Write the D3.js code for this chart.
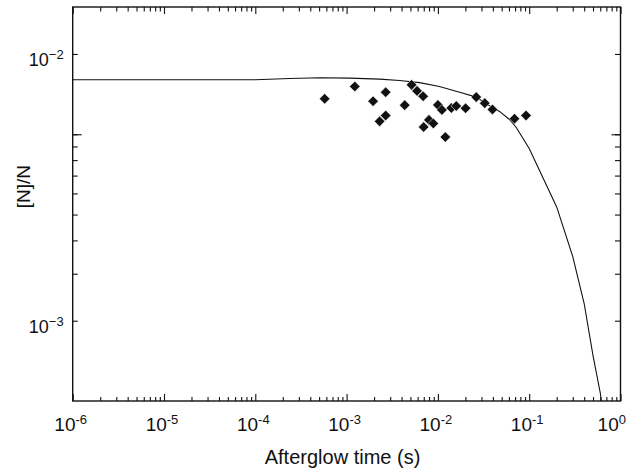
<!DOCTYPE html>
<html>
<head>
<meta charset="utf-8">
<script src="https://cdn.jsdelivr.net/npm/d3@7"></script>
<style>
  body { margin: 0; background: #fff; }
  text { font-family: "Liberation Sans", Arial, sans-serif; fill: #111; }
</style>
</head>
<body>
<div id="svg_chart"></div>
<script>
// measured points (afterglow time in s, [N]/N)
var pointTime = [5.75e-4, 1.23e-3, 1.95e-3, 2.68e-3, 2.30e-3, 2.68e-3, 4.33e-3, 5.15e-3,
	5.91e-3, 6.89e-3, 1.00e-2, 1.107e-2, 6.98e-3, 7.98e-3, 8.91e-3, 1.206e-2,
	1.404e-2, 1.589e-2, 2.01e-2, 2.63e-2, 3.26e-2, 3.96e-2, 6.9e-2, 9.23e-2];
var pointValue = [6.79e-3, 7.55e-3, 6.65e-3, 7.19e-3, 5.59e-3, 5.88e-3, 6.43e-3, 7.66e-3,
	7.27e-3, 6.94e-3, 6.44e-3, 6.17e-3, 5.32e-3, 5.66e-3, 5.49e-3, 4.88e-3,
	6.27e-3, 6.38e-3, 6.26e-3, 6.89e-3, 6.54e-3, 6.19e-3, 5.72e-3, 5.88e-3];

// model curve
var curveTime = [1e-6, 1e-4, 2.38e-4, 5.08e-4, 1.08e-3, 2.3e-3, 3.81e-3, 6.3e-3, 1.04e-2,
	1.73e-2, 2.63e-2, 3.39e-2, 4.73e-2, 6.08e-2, 7.22e-2, 8.53e-2, 0.1, 0.2, 0.3, 0.4, 0.5, 0.6, 0.7];
var curveValue = [8.0e-3, 8.0e-3, 8.09e-3, 8.14e-3, 8.12e-3, 8.05e-3, 7.95e-3, 7.81e-3, 7.55e-3,
	7.19e-3, 6.89e-3, 6.5e-3, 6.09e-3, 5.68e-3, 5.30e-3, 4.83e-3, 4.42e-3, 2.67e-3, 1.74e-3, 1.16e-3, 7.4e-4, 5.37e-4, 3.7e-4];

var xMajor = [1e-6, 1e-5, 1e-4, 1e-3, 1e-2, 1e-1, 1];
var xExp = ["-6", "-5", "-4", "-3", "-2", "-1", "0"];
var yMajor = [1e-2, 5e-3, 4.5e-3, 4e-3, 3.5e-3, 3e-3, 2.5e-3, 2e-3, 1.5e-3, 1e-3];
var yLabelled = [1e-2, 1e-3];
var yExp = ["\u22122", "\u22123"];

var margin = { top: 7, right: 6.5, bottom: 70, left: 72.7 };
var width = 627 - margin.left - margin.right;
var height = 471 - margin.top - margin.bottom;

var xAxis = d3.scaleLog().domain([1e-6, 1]).range([0, width]);
var yAxis = d3.scaleLog().domain([5e-4, 1.5e-2]).range([height, 0]);

// minor x ticks 2..9 inside every decade
var xMinor = [];
for (var e = -6; e < 0; e++) {
	for (var m = 2; m <= 9; m++) xMinor.push(m * Math.pow(10, e));
}

var svg = d3.select("#svg_chart").append("svg")
	.attr("width", 627)
	.attr("height", 471)
	.append("g")
		.attr("transform", "translate(" + margin.left + "," + margin.top + ")");

svg.append("clipPath").attr("id", "clip")
	.append("rect").attr("width", width).attr("height", height);

function tidy(g) {
	g.select(".domain").remove();
	g.selectAll("text").remove();
	g.selectAll("line").attr("stroke", "#111").attr("stroke-width", 1.1);
}

// ticks on all four sides, pointing in
svg.append("g").attr("transform", "translate(0," + height + ")")
	.call(d3.axisBottom(xAxis).tickValues(xMajor).tickSize(-7)).call(tidy);
svg.append("g").attr("transform", "translate(0," + height + ")")
	.call(d3.axisBottom(xAxis).tickValues(xMinor).tickSize(-4)).call(tidy);
svg.append("g")
	.call(d3.axisTop(xAxis).tickValues(xMajor).tickSize(-7)).call(tidy);
svg.append("g")
	.call(d3.axisTop(xAxis).tickValues(xMinor).tickSize(-4.5)).call(tidy);
svg.append("g")
	.call(d3.axisLeft(yAxis).tickValues(yMajor).tickSize(-5)).call(tidy);
svg.append("g").attr("transform", "translate(" + width + ",0)")
	.call(d3.axisRight(yAxis).tickValues(yMajor).tickSize(-5.5)).call(tidy);
// the 5e-3 tick is drawn longer
svg.append("g")
	.call(d3.axisLeft(yAxis).tickValues([5e-3]).tickSize(-9)).call(tidy);
svg.append("g").attr("transform", "translate(" + width + ",0)")
	.call(d3.axisRight(yAxis).tickValues([5e-3]).tickSize(-9)).call(tidy);

// frame
svg.append("rect")
	.attr("width", width).attr("height", height)
	.attr("fill", "none").attr("stroke", "#111").attr("stroke-width", 1.4);

// x tick labels
var xl = svg.selectAll(".xlab").data(xMajor).enter().append("text")
	.attr("class", "xlab")
	.attr("x", function (d) { return xAxis(d) - 2; })
	.attr("y", height + 30)
	.attr("text-anchor", "middle")
	.style("font-size", "19px")
	.text("10");
xl.append("tspan")
	.attr("dy", -7.5)
	.style("font-size", "13px")
	.text(function (d, i) { return xExp[i]; });

// keep the last label inside the page
xl.each(function () {
	var box = this.getBBox();
	var over = box.x + box.width - (width + margin.right - 1);
	if (over > 0) d3.select(this).attr("x", +d3.select(this).attr("x") - over);
});

// y tick labels
var yl = svg.selectAll(".ylab").data(yLabelled).enter().append("text")
	.attr("class", "ylab")
	.attr("x", -9)
	.attr("y", function (d) { return yAxis(d) + 12.4; })
	.attr("text-anchor", "end")
	.style("font-size", "18px")
	.text("10");
yl.append("tspan")
	.attr("dy", -7.4)
	.style("font-size", "13px")
	.text(function (d, i) { return yExp[i]; });

// axis titles
svg.append("text")
	.attr("x", 342.5 - margin.left)
	.attr("y", 464 - margin.top)
	.attr("text-anchor", "middle")
	.style("font-size", "20px")
	.text("Afterglow time (s)");

svg.append("text")
	.attr("transform", "translate(" + (30.5 - margin.left) + "," + (186.7 - margin.top) + ") rotate(-90)")
	.attr("text-anchor", "middle")
	.style("font-size", "19px")
	.text("[N]/N");

// model curve
var curve = curveTime.map(function (t, i) { return [t, curveValue[i]]; });
svg.append("path")
	.datum(curve)
	.attr("clip-path", "url(#clip)")
	.attr("fill", "none")
	.attr("stroke", "#111")
	.attr("stroke-width", 1.1)
	.attr("d", d3.line()
		.x(function (d) { return xAxis(d[0]); })
		.y(function (d) { return yAxis(d[1]); }));

// data points as diamonds
var pts = pointTime.map(function (t, i) { return [t, pointValue[i]]; });
svg.selectAll(".pt").data(pts).enter().append("path")
	.attr("class", "pt")
	.attr("d", d3.symbol(d3.symbolSquare, 56))
	.attr("transform", function (d) {
		return "translate(" + xAxis(d[0]) + "," + yAxis(d[1]) + ") rotate(45)";
	})
	.attr("fill", "#111")
	.attr("stroke", "#fff")
	.attr("stroke-width", 0.5);
</script>
</body>
</html>
